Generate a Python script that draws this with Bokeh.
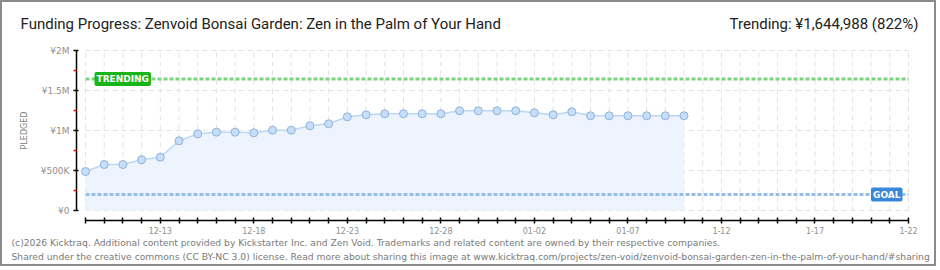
import pandas as pd
from bokeh.plotting import figure
from bokeh.models import Range1d, FixedTicker, Label, ColumnDataSource
from bokeh.embed import file_html
from bokeh.resources import INLINE

# ---------------- data ----------------
start_date = "2025-12-09"
end_date = "2026-01-22"
pledged = [487500, 575000, 575000, 634000, 666000, 871000, 958000, 979000,
           979000, 971000, 1004000, 1004000, 1059000, 1084000, 1171000, 1196000,
           1209000, 1209000, 1209000, 1209000, 1246000, 1246000, 1246000, 1246000,
           1221000, 1196000, 1234000, 1184000, 1184000, 1184000, 1184000, 1184000,
           1184000]
goal = 200000
trending = 1644988
trending_pct = 822
x_tick_dates = ["2025-12-13", "2025-12-18", "2025-12-23", "2025-12-28",
                "2026-01-02", "2026-01-07", "2026-01-12", "2026-01-17", "2026-01-22"]
x_tick_labels = ["12-13", "12-18", "12-23", "12-28", "01-02", "01-07", "1-12", "1-17", "1-22"]
y_ticks = [0, 500000, 1000000, 1500000, 2000000]
y_minor_ticks = [250000, 750000, 1250000, 1750000]
y_tick_labels = ["¥0", "¥500K", "¥1M", "¥1.5M", "¥2M"]
title_text = "Funding Progress: Zenvoid Bonsai Garden: Zen in the Palm of Your Hand"
footer1 = "(c)2026 Kicktraq. Additional content provided by Kickstarter Inc. and Zen Void. Trademarks and related content are owned by their respective companies."
footer2 = "Shared under the creative commons (CC BY-NC 3.0) license. Read more about sharing this image at www.kicktraq.com/projects/zen-void/zenvoid-bonsai-garden-zen-in-the-palm-of-your-hand/#sharing"

# ---------------- derived ----------------
t0 = pd.Timestamp(start_date)
n_days = (pd.Timestamp(end_date) - t0).days
days = list(range(len(pledged)))
all_days = list(range(n_days + 1))
tick_pos = [(pd.Timestamp(d) - t0).days for d in x_tick_dates]
y_top = y_ticks[-1]

src = ColumnDataSource(dict(x=days, y=pledged, zero=[0] * len(days)))

# ---------------- layout geometry (pixels) ----------------
W, H = 936, 266          # canvas; a 2px border surrounds it
BORDER = 2
X0_PX, X1_PX = 85, 908   # page x of first / last day
Y0_PX, YT_PX = 210, 50   # page y of 0 and of top tick
px_day = (X1_PX - X0_PX) / n_days
val_px = y_top / (Y0_PX - YT_PX)
x_start = -(X0_PX - BORDER) / px_day
x_end = x_start + W / px_day
y_end = (Y0_PX - BORDER) * val_px
y_start = y_end - H * val_px

def dx(page_x):
    return x_start + (page_x - BORDER) / px_day

def dy(page_y):
    return y_end - (page_y - BORDER) * val_px

FONT = "Roboto"
PIX = "DejaVu Sans"

p = figure(width=W, height=H, output_backend="svg", toolbar_location=None,
           x_range=Range1d(x_start, x_end), y_range=Range1d(y_start, y_end),
           min_border=0, min_border_left=0, min_border_right=0,
           min_border_top=0, min_border_bottom=0)
p.styles = {"border": "2px solid #8a8a8a"}
p.outline_line_color = None
p.xgrid.visible = False
p.ygrid.visible = False
p.background_fill_color = "white"
p.border_fill_color = "white"

# grid lines drawn within the data area
p.segment(x0=all_days, x1=all_days, y0=[0] * len(all_days), y1=[y_top] * len(all_days),
          line_color="#e2e2e2", line_width=1, line_dash="5 4")
p.segment(x0=[0] * len(y_ticks), x1=[n_days] * len(y_ticks), y0=y_ticks, y1=y_ticks,
          line_color="#e2e2e2", line_width=1, line_dash="5 4")

# area, line
p.varea(x="x", y1="zero", y2="y", source=src, fill_color="#edf4fd")
p.line(x="x", y="y", source=src, line_color="#bcd7f3", line_width=1.5)

# goal & trending lines
p.segment(x0=[0], x1=[n_days], y0=[trending], y1=[trending],
          line_color="#7dd37d", line_width=3, line_dash="4 2")
p.segment(x0=[0], x1=[n_days], y0=[goal], y1=[goal],
          line_color="#98bde5", line_width=3, line_dash="4 2")

p.scatter(x="x", y="y", source=src, size=8, fill_color="#c6def9",
          line_color="#8fb2da", line_width=1)

# badges
p.add_layout(Label(x=0, y=trending, text="TRENDING", x_offset=9, text_baseline="middle",
                   text_align="left", text_color="white", text_font=PIX,
                   text_font_size="9px", text_font_style="bold",
                   background_fill_color="#17b517", padding=2, border_radius=2))
p.add_layout(Label(x=n_days, y=goal, text="GOAL", x_offset=-6, text_baseline="middle",
                   text_align="right", text_color="white", text_font=PIX,
                   text_font_size="9px", text_font_style="bold",
                   background_fill_color="#3a87d7", padding=2, border_radius=2))

# axes (fixed inside the full-canvas frame)
xa = p.xaxis[0]
xa.fixed_location = dy(220)
xa.ticker = FixedTicker(ticks=all_days)
xa.major_label_overrides = {d: "" for d in all_days}
xa.major_label_overrides.update({pos: lab for pos, lab in zip(tick_pos, x_tick_labels)})
xa.bounds = (0, n_days)
xa.axis_line_color = "black"
xa.axis_line_width = 1.5
xa.major_tick_in = 3
xa.major_tick_out = 3
xa.major_tick_line_width = 1.5
xa.minor_tick_line_color = None
xa.major_label_text_font = PIX
xa.major_label_text_font_size = "8px"
xa.major_label_text_color = "#909090"
xa.major_label_standoff = 3

ya = p.yaxis[0]
ya.fixed_location = dx(76)
ya.ticker = FixedTicker(ticks=y_ticks, minor_ticks=y_minor_ticks)
ya.major_label_overrides = {t: lab for t, lab in zip(y_ticks, y_tick_labels)}
ya.bounds = (0, y_top)
ya.axis_line_width = 1.5
ya.major_tick_in = 2
ya.major_tick_out = 3
ya.major_tick_line_width = 1.5
ya.minor_tick_in = 0
ya.minor_tick_out = 3
ya.minor_tick_line_color = "red"
ya.minor_tick_line_width = 1.5
ya.major_label_text_font = PIX
ya.major_label_text_font_size = "9px"
ya.major_label_text_color = "#909090"
ya.major_label_standoff = 4
ya.axis_label = "PLEDGED"
ya.axis_label_text_font = PIX
ya.axis_label_text_font_size = "8px"
ya.axis_label_text_font_style = "normal"
ya.axis_label_text_color = "#808080"
ya.axis_label_standoff = 9

# texts
def add_text(txt, page_x, page_y, size, color, font, align="left"):
    p.add_layout(Label(x=dx(page_x), y=dy(page_y), text=txt,
                       text_align=align, text_baseline="middle", text_font=font,
                       text_font_size=size, text_color=color))

add_text(title_text, 20, 23, "15px", "#222222", FONT)
add_text(f"Trending: ¥{trending:,} ({trending_pct}%)", 918, 23, "15px", "#222222", FONT, "right")
add_text(footer1, 11, 242, "9.2px", "#7a7a7a", "DejaVu Sans")
add_text(footer2, 11, 256, "9.2px", "#7a7a7a", "DejaVu Sans")

open("out.html", "w").write(file_html(p, INLINE))
